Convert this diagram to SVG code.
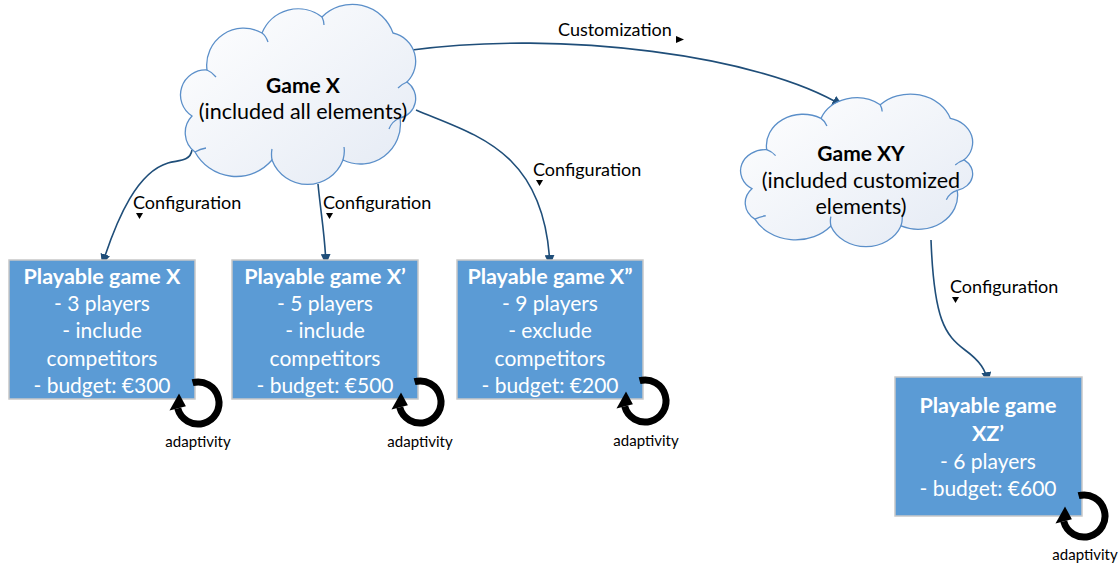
<svg xmlns="http://www.w3.org/2000/svg" xmlns:xlink="http://www.w3.org/1999/xlink" width="1120" height="566" viewBox="0 0 1120 566">
  <style>
    .cloud { fill: url(#cloudFill); stroke: #5b8fc9; stroke-width: 1.3; }
    .inner { fill: none; stroke: #5b8fc9; stroke-width: 1.3; }
    .ctitle { font-family: Lato, "Liberation Sans", sans-serif; font-size: 21px; font-weight: bold; fill: #000; text-anchor: middle; }
    .cbody { font-family: Lato, "Liberation Sans", sans-serif; font-size: 21.5px; fill: #000; text-anchor: middle; }
    .box { fill: #5b9bd5; stroke: #c8c8c8; stroke-width: 1.5; }
    .btitle { font-family: Lato, "Liberation Sans", sans-serif; font-size: 21.5px; font-weight: bold; fill: #fff; text-anchor: middle; }
    .bbody { font-family: Lato, "Liberation Sans", sans-serif; font-size: 21px; fill: #fff; text-anchor: middle; }
    .conn { fill: none; stroke: #1f4e79; stroke-width: 1.6; marker-end: url(#arrow); }
    .lbl { font-family: Lato, "Liberation Sans", sans-serif; font-size: 18px; fill: #000; }
    .tick { fill: #000; }
    .adapt { font-family: Lato, "Liberation Sans", sans-serif; font-size: 15px; fill: #000; text-anchor: middle; }
  </style>
  <defs>
    <linearGradient id="cloudFill" x1="0" y1="0" x2="1" y2="1">
      <stop offset="0" stop-color="#ffffff"/>
      <stop offset="1" stop-color="#e4eaf4"/>
    </linearGradient>
    <marker id="arrow" viewBox="0 0 10 9" refX="10" refY="4.5" markerUnits="userSpaceOnUse" markerWidth="11" markerHeight="10" orient="auto">
      <path d="M0,0 L10,4.5 L0,9 z" fill="#1f4e79"/>
    </marker>
    <!-- cloud outline: lobes joined at notches, plus the short inner arcs -->
    <g id="cloudShape">
      <path class="cloud" vector-effect="non-scaling-stroke" d="M 262 33 A 39 39 0 0 1 322 17 A 43 43 0 0 1 393 33 A 29 29 0 0 1 407 82 A 20 20 0 0 1 400 118 A 40 40 0 0 1 343 160 A 38 38 0 0 1 272 160 A 47 47 0 0 1 195 152 A 24 24 0 0 1 192 116 A 25 25 0 0 1 207 70 A 37 37 0 0 1 262 33 Z"/>
      <path class="inner" vector-effect="non-scaling-stroke" d="M 262 33 Q 266 36 268 42 M 322 17 Q 324 21 324 25 M 407 82 Q 402 84 398 88 M 400 118 Q 392 121 389 129 M 343 160 Q 345 153 344 147 M 272 160 Q 271 154 272 149 M 195 152 Q 200 149 206 148 M 207 70 Q 212 72 216 77"/>
    </g>
    <!-- circular "adaptivity" arrow centred on 0,0 -->
    <g id="loop">
      <path d="M -5.44 -20.28 A 21 21 0 1 1 -20.28 5.44" fill="none" stroke="#000" stroke-width="7"/>
      <path d="M -28.5 7.6 L -19 -9.5 L -12.1 3.3 Z" fill="#000"/>
    </g>
  </defs>

  <rect width="1120" height="566" fill="#fff"/>

  <!-- connectors -->
  <g id="connectors">
    <path class="conn" d="M 192 150 C 190 162, 178 160, 168 163 C 138 172, 118 215, 102 265"/>
    <path class="conn" d="M 318 184 C 321 215, 325 235, 326 265"/>
    <path class="conn" d="M 416 110 C 475 135, 545 150, 550 266"/>
    <path class="conn" d="M 412 50 C 560 30, 760 55, 843 106"/>
    <path class="conn" d="M 931 240 C 934 320, 945 335, 965 350 C 980 361, 986 370, 988 383"/>

    <text class="lbl" x="133" y="209">Configuration</text>
    <path class="tick" d="M 136 213 L 143 213 L 139.5 219 Z"/>
    <text class="lbl" x="323" y="209">Configuration</text>
    <path class="tick" d="M 326 213 L 333 213 L 329.5 219 Z"/>
    <text class="lbl" x="533" y="176">Configuration</text>
    <path class="tick" d="M 536 180 L 543 180 L 539.5 186 Z"/>
    <text class="lbl" x="950" y="293">Configuration</text>
    <path class="tick" d="M 952 297 L 959 297 L 955.5 303 Z"/>
    <text class="lbl" x="558" y="36">Customization</text>
    <path class="tick" d="M 676 36 L 684 39.5 L 676 43 Z"/>
  </g>

  <g id="gameX">
    <use xlink:href="#cloudShape"/>
    <text class="ctitle" x="303" y="93">Game X</text>
    <text class="cbody" x="303" y="119">(included all elements)</text>
  </g>

  <g id="gameXY">
    <use xlink:href="#cloudShape" transform="matrix(0.987 0 0 0.847 562.4 90.4)"/>
    <text class="ctitle" x="861" y="161">Game XY</text>
    <text class="cbody" x="861" y="188">(included customized</text>
    <text class="cbody" x="861" y="214">elements)</text>
  </g>

  <g id="playableX">
    <rect class="box" x="9" y="260" width="186" height="139"/>
    <text class="btitle" x="102" y="284">Playable game X</text>
    <text class="bbody" x="102" y="311">- 3 players</text>
    <text class="bbody" x="102" y="338">- include</text>
    <text class="bbody" x="102" y="366">competitors</text>
    <text class="bbody" x="102" y="393">- budget: €300</text>
    <use xlink:href="#loop" x="198" y="403"/>
    <text class="adapt" x="198" y="447">adaptivity</text>
  </g>

  <g id="playableX1">
    <rect class="box" x="232" y="260" width="186" height="139"/>
    <text class="btitle" x="325" y="284">Playable game X’</text>
    <text class="bbody" x="325" y="311">- 5 players</text>
    <text class="bbody" x="325" y="338">- include</text>
    <text class="bbody" x="325" y="366">competitors</text>
    <text class="bbody" x="325" y="393">- budget: €500</text>
    <use xlink:href="#loop" x="420" y="402"/>
    <text class="adapt" x="420" y="447">adaptivity</text>
  </g>

  <g id="playableX2">
    <rect class="box" x="457" y="260" width="186" height="139"/>
    <text class="btitle" x="550" y="284">Playable game X”</text>
    <text class="bbody" x="550" y="311">- 9 players</text>
    <text class="bbody" x="550" y="338">- exclude</text>
    <text class="bbody" x="550" y="366">competitors</text>
    <text class="bbody" x="550" y="393">- budget: €200</text>
    <use xlink:href="#loop" x="645" y="401"/>
    <text class="adapt" x="646" y="446">adaptivity</text>
  </g>

  <g id="playableXZ">
    <rect class="box" x="895" y="377" width="187" height="139"/>
    <text class="btitle" x="988" y="413">Playable game</text>
    <text class="btitle" x="988" y="441">XZ’</text>
    <text class="bbody" x="988" y="469">- 6 players</text>
    <text class="bbody" x="988" y="496">- budget: €600</text>
    <use xlink:href="#loop" x="1084" y="516"/>
    <text class="adapt" x="1085" y="560">adaptivity</text>
  </g>
</svg>
